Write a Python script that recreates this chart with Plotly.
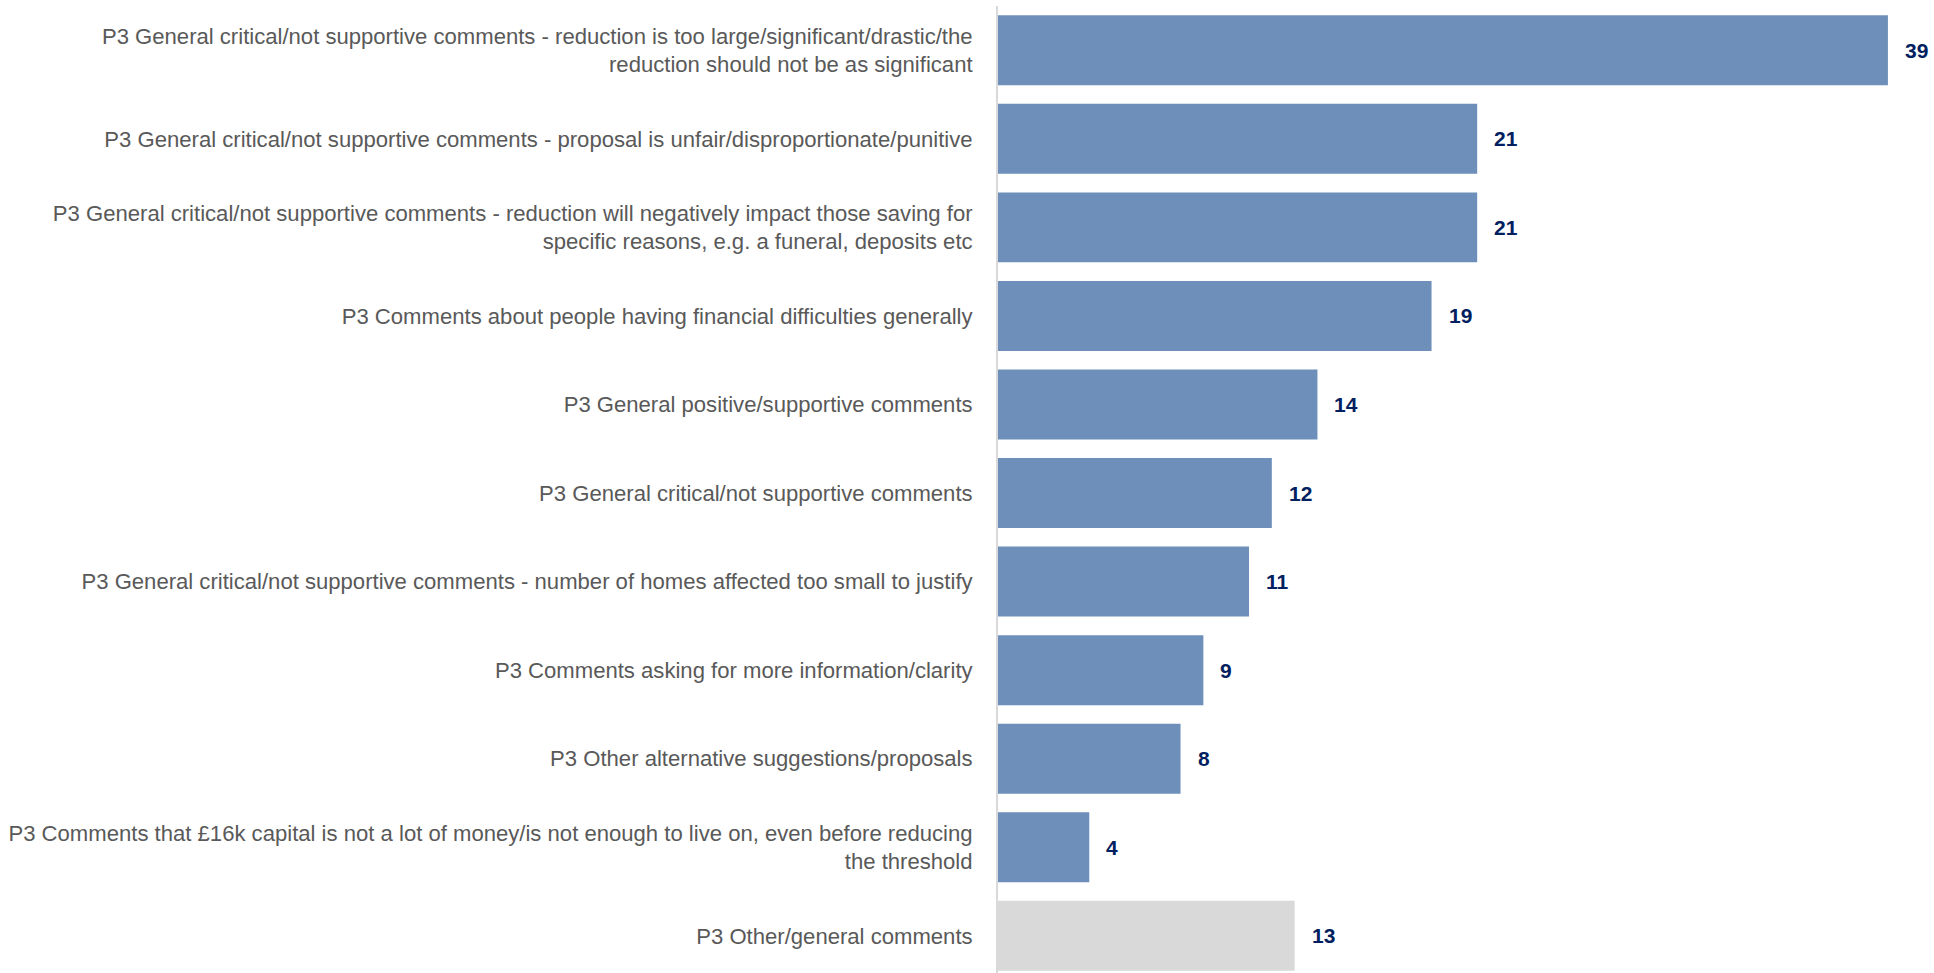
import plotly.graph_objects as go

categories = [
    "P3 General critical/not supportive comments - reduction is too large/significant/drastic/the<br>reduction should not be as significant",
    "P3 General critical/not supportive comments - proposal is unfair/disproportionate/punitive",
    "P3 General critical/not supportive comments - reduction will negatively impact those saving for<br>specific reasons, e.g. a funeral, deposits etc",
    "P3 Comments about people having financial difficulties generally",
    "P3 General positive/supportive comments",
    "P3 General critical/not supportive comments",
    "P3 General critical/not supportive comments - number of homes affected too small to justify",
    "P3 Comments asking for more information/clarity",
    "P3 Other alternative suggestions/proposals",
    "P3 Comments that £16k capital is not a lot of money/is not enough to live on, even before reducing<br>the threshold",
    "P3 Other/general comments",
]
values = [39, 21, 21, 19, 14, 12, 11, 9, 8, 4, 13]
bar_colors = ["#6d8fb9"] * 10 + ["#d9d9d9"]

FONT = "Liberation Sans, Arial, sans-serif"

fig = go.Figure()
fig.add_trace(go.Bar(
    x=values, y=categories, orientation="h",
    marker=dict(color=bar_colors, line=dict(width=0)),
    width=0.79, hoverinfo="skip",
))

for c, v in zip(categories, values):
    fig.add_annotation(x=v, y=c, text=f"<b>{v}</b>", showarrow=False,
                       xanchor="left", xshift=15,
                       font=dict(family=FONT, size=21, color="#002060"))

fig.update_layout(
    width=1934, height=973,
    margin=dict(l=998, r=0, t=6, b=0, autoexpand=False),
    paper_bgcolor="white", plot_bgcolor="white",
    showlegend=False,
    font=dict(family=FONT, size=22, color="#595959"),
    xaxis=dict(range=[0, 41.02], visible=False, showgrid=False, zeroline=False),
    yaxis=dict(type="category", range=[10.42, -0.5], showgrid=False, zeroline=False,
               automargin=False,
               showline=True, linecolor="#d9d9d9", linewidth=2,
               ticks="", ticklabelstandoff=19,
               tickfont=dict(family=FONT, size=22.1, color="#595959")),
)

fig.write_html("out.html")
